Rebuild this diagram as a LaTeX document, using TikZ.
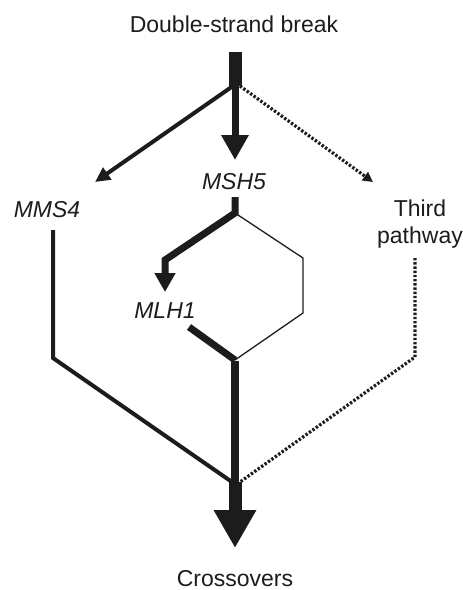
\documentclass[tikz,border=0pt]{standalone}
\usepackage{fontspec}
\setmainfont{Liberation Sans}
\usetikzlibrary{arrows.meta}
\definecolor{ink}{HTML}{1C1C1C}
\begin{document}
\begin{tikzpicture}[x=1pt,y=-1pt,
  lbl/.style={inner sep=0pt, anchor=base, text=ink,
    font=\fontsize{23}{27}\selectfont},
  gene/.style={lbl, font=\fontsize{23}{27}\selectfont\itshape},
  link/.style={draw=ink, line join=miter},
  dots/.style={draw=ink, line width=3.2pt, dash pattern=on 2.4pt off 1.8pt},
]
\useasboundingbox (0,0) rectangle (463,590);

% labels
\node[lbl]  (dsb)   at (234,32)  {Double-strand break};
\node[gene] (msh5)  at (234,189) {MSH5};
\node[gene] (mms4)  at (47,217)  {MMS4};
\node[gene] (mlh1)  at (165,318) {MLH1};
\node[lbl, anchor=center, align=center] (third) at (420,224) {Third\\pathway};
\node[lbl]  (co)    at (235,586) {Crossovers};

% junction points
\coordinate (top)    at (235,52);
\coordinate (split)  at (235,86);
\coordinate (mshin)  at (235,160);
\coordinate (mmsin)  at (95,182);
\coordinate (thin)   at (373,182);
\coordinate (mshout) at (235,197);
\coordinate (fork)   at (235,213);
\coordinate (bendL)  at (165,260);
\coordinate (mlhin)  at (165,292);
\coordinate (bendR1) at (303,258);
\coordinate (bendR2) at (303,313);
\coordinate (merge)  at (235,360);
\coordinate (mlhout) at (189,327);
\coordinate (mmsout) at (53,230);
\coordinate (mmsbend) at (53,358);
\coordinate (thout)  at (415,258);
\coordinate (thbend) at (415,357);
\coordinate (join)   at (235,482);
\coordinate (coin)   at (235,548);

% from the double-strand break
\draw[link, line width=13pt] (top) -- (split);
\draw[link, line width=7pt, -{Triangle[length=25pt,width=26pt]}] (split) -- (mshin);
\draw[link, line width=4pt, -{Triangle[length=15pt,width=14pt]}] ([xshift=-2pt]split) -- (mmsin);
\draw[dots, -{Triangle[length=10pt,width=10pt]}] ([xshift=5pt]split) -- (thin);

% MSH5 branches
\draw[link, line width=7pt, -{Triangle[length=19pt,width=20pt]}]
  (mshout) -- (fork) -- (bendL) -- (mlhin);
\draw[link, line width=1.3pt] (fork) -- (bendR1) -- (bendR2) -- (merge);
\draw[link, line width=7pt] (mlhout) -- (merge);

% MMS4 and third pathway
\draw[link, line width=4pt] (mmsout) -- (mmsbend) -- ([xshift=-3pt]join);
\draw[dots] (thout) -- (thbend) -- ([xshift=5pt]join);

% to crossovers
\draw[link, line width=8pt] ([yshift=-1pt]merge) -- (join);
\draw[link, line width=13pt, -{Triangle[length=38pt,width=40pt]}] (join) -- (coin);
\end{tikzpicture}
\end{document}
